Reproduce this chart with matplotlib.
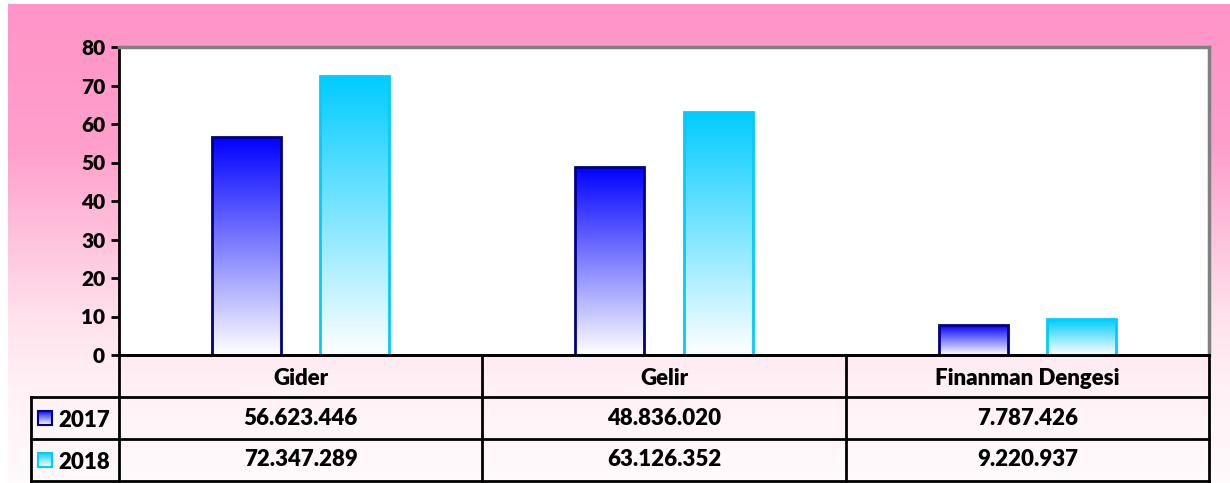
import numpy as np
import matplotlib
matplotlib.use("Agg")
import matplotlib.pyplot as plt
from matplotlib.colors import LinearSegmentedColormap
from matplotlib.patches import Rectangle

# veriler (TL)
kategoriler = ["Gider", "Gelir", "Finanman Dengesi"]
yillar = ["2017", "2018"]
deger_2017 = [56623446, 48836020, 7787426]
deger_2018 = [72347289, 63126352, 9220937]
y_ticks = [0, 10, 20, 30, 40, 50, 60, 70, 80]

renk_2017 = "#0000FF"
kenar_2017 = "#000080"
renk_2018 = "#00CCFF"
kenar_2018 = "#00CCFF"

plt.rcParams["font.family"] = ["Lato", "DejaVu Sans"]
AGIRLIK = "heavy"
FS = 16

W, H = 1230, 483
fig = plt.figure(figsize=(W / 100, H / 100), dpi=100)
fig.patch.set_facecolor("white")


def px(x0, y0, x1, y1):
    # piksel kutusunu figure koordinatina cevir (y yukaridan)
    return [x0 / W, (H - y1) / H, (x1 - x0) / W, (y1 - y0) / H]


def gradyan_doldur(ax, patch, renk):
    cmap = LinearSegmentedColormap.from_list("g", ["#FFFFFF", renk])
    x, y = patch.get_x(), patch.get_y()
    w, h = patch.get_width(), patch.get_height()
    grad = np.linspace(0, 1, 256).reshape(-1, 1)
    im = ax.imshow(grad, cmap=cmap, origin="lower", aspect="auto",
                   extent=[x, x + w, y, y + h], zorder=patch.get_zorder() - 0.5,
                   interpolation="bilinear")
    im.set_clip_path(patch)


# arka plan pembe gradyan
bg = fig.add_axes(px(8, 4, W, H))
bg_cmap = LinearSegmentedColormap.from_list("bg", [
    (0.0, "#FF94C8"), (0.3, "#FF9FCC"), (0.5, "#FFC4DE"),
    (0.65, "#FFE0EC"), (0.8, "#FFF1F6"), (1.0, "#FFFAFC")])
bg.imshow(np.linspace(0, 1, 256).reshape(-1, 1), cmap=bg_cmap, aspect="auto",
          extent=[0, 1, 0, 1], origin="upper")
bg.set_axis_off()
bg.set_zorder(0)

# ana grafik
ax = fig.add_axes(px(119, 47, 1209, 355))
ax.set_zorder(2)
ax.set_facecolor("white")
x = np.arange(len(kategoriler))
ofset, genislik = 0.149, 0.19

b17 = ax.bar(x - ofset, np.array(deger_2017) / 1e6, width=genislik,
             facecolor="none", edgecolor=kenar_2017, linewidth=2, zorder=3)
b18 = ax.bar(x + ofset, np.array(deger_2018) / 1e6, width=genislik,
             facecolor="none", edgecolor=kenar_2018, linewidth=2, zorder=3)
for p in b17:
    gradyan_doldur(ax, p, renk_2017)
for p in b18:
    gradyan_doldur(ax, p, renk_2018)

ax.set_xlim(-0.5, len(kategoriler) - 0.5)
ax.set_ylim(0, 80)
ax.set_yticks(y_ticks)
ax.set_yticklabels([str(t) for t in y_ticks], fontsize=15, fontweight=AGIRLIK)
ax.set_xticks([])
ax.tick_params(axis="y", direction="out", length=6, width=2, pad=4)
for s in ["left", "bottom"]:
    ax.spines[s].set_color("black")
    ax.spines[s].set_linewidth(2)
for s in ["top", "right"]:
    ax.spines[s].set_color("#808080")
    ax.spines[s].set_linewidth(2.5)

# veri tablosu
sol = -0.5 - (119 - 31) / 363.3
tax = fig.add_axes(px(31, 355, 1209, 481))
tax.set_zorder(3)
tax.patch.set_alpha(0)
tax.set_xlim(sol, len(kategoriler) - 0.5)
tax.set_ylim(3, 0)
tax.set_axis_off()

lw = 2
tax.plot([-0.5, 2.5], [0, 0], color="black", lw=lw, clip_on=False)
for yy in [1, 2, 3]:
    tax.plot([sol, 2.5], [yy, yy], color="black", lw=lw, clip_on=False)
tax.plot([sol, sol], [1, 3], color="black", lw=lw, clip_on=False)
for xx in [-0.5, 0.5, 1.5, 2.5]:
    tax.plot([xx, xx], [0, 3], color="black", lw=lw, clip_on=False)

for i, k in enumerate(kategoriler):
    tax.text(i, 0.55, k, ha="center", va="center", fontsize=FS, fontweight=AGIRLIK)
    tax.text(i, 1.52, f"{deger_2017[i]:,}".replace(",", "."), ha="center",
             va="center", fontsize=FS, fontweight=AGIRLIK)
    tax.text(i, 2.5, f"{deger_2018[i]:,}".replace(",", "."), ha="center",
             va="center", fontsize=FS, fontweight=AGIRLIK)

for r, (yil, renk, kenar) in enumerate(zip(yillar, [renk_2017, renk_2018],
                                            [kenar_2017, kenar_2018])):
    yc = 1.5 + r
    sw = Rectangle((sol + 0.019, yc - 0.17), 0.0385, 0.34, facecolor="none",
                   edgecolor=kenar, lw=1.5, zorder=4)
    tax.add_patch(sw)
    cmap = LinearSegmentedColormap.from_list("s", ["#FFFFFF", renk])
    im = tax.imshow(np.linspace(0, 1, 64).reshape(-1, 1), cmap=cmap,
                    origin="lower", aspect="auto",
                    extent=[sol + 0.019, sol + 0.0575, yc + 0.17, yc - 0.17],
                    zorder=3)
    im.set_clip_path(sw)
    tax.text(sol + 0.074, yc + 0.05, yil, ha="left", va="center",
             fontsize=FS, fontweight=AGIRLIK)

tax.set_xlim(sol, len(kategoriler) - 0.5)
tax.set_ylim(3, 0)

fig.savefig("out.png", dpi=100)
